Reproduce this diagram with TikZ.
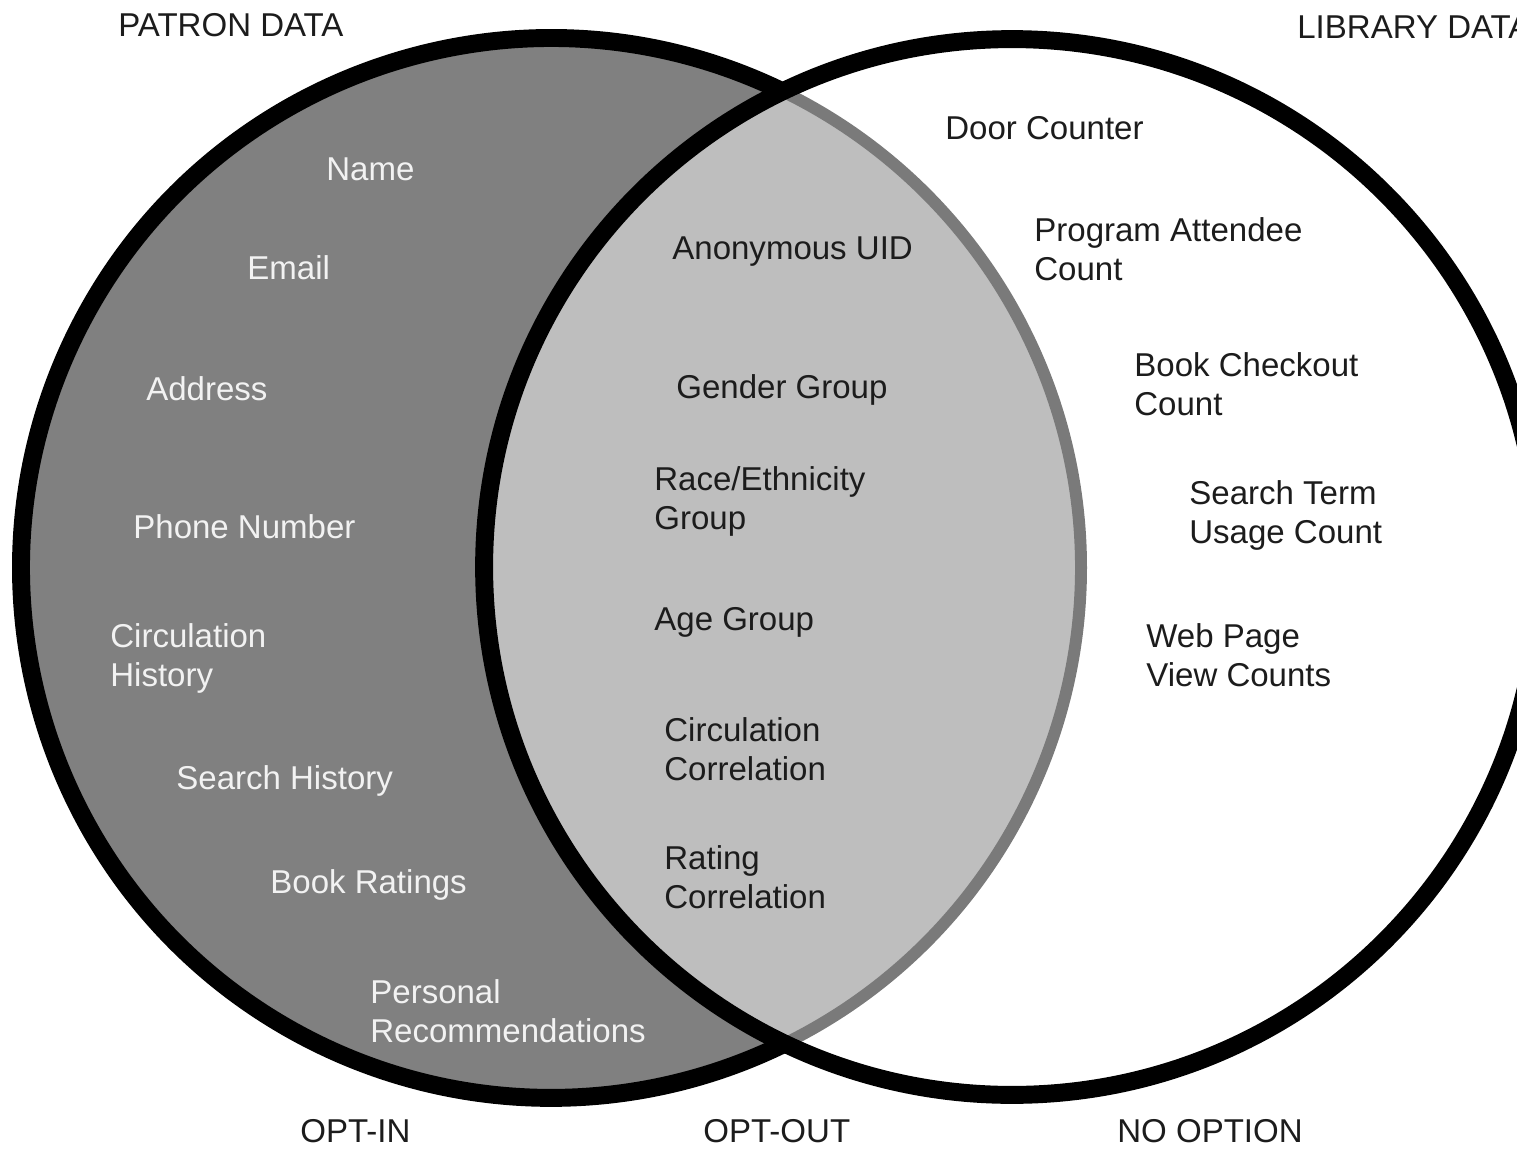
\documentclass[tikz,border=0pt]{standalone}
\usepackage{fontspec}
\setmainfont{Liberation Sans}
\definecolor{patrongray}{HTML}{808080}
\definecolor{sharedgray}{HTML}{BEBEBE}
\definecolor{rimgray}{HTML}{7A7A7A}
\definecolor{inkblack}{HTML}{1C1C1C}
\tikzset{
  lbl/.style={anchor=west, inner sep=0pt, align=left, text=inkblack,
    text depth=0pt, font=\fontsize{18.8}{22.3}\selectfont},
  wlbl/.style={lbl, text=white!95!black},
  rim/.style={line width=10.2pt},
}
\begin{document}
\begin{tikzpicture}[x=0.02cm, y=-0.02cm]
  \useasboundingbox (0,0) rectangle (1517,1149);
  \coordinate (pc) at (551,568);
  \coordinate (lc) at (1012,567);

  \fill[patrongray] (pc) circle (10.6cm);
  \begin{scope}
    \clip (lc) circle (10.56cm);
    \fill[sharedgray] (pc) circle (10.6cm);
  \end{scope}
  \draw[rimgray, line width=6.8pt] (pc) ++(-64:10.6cm) arc[start angle=-64, end angle=64, radius=10.6cm];
  \draw[rim] (pc) ++(64:10.6cm) arc[start angle=64, end angle=296, radius=10.6cm];
  \draw[rim] (lc) circle (10.56cm);

  \node[lbl] (patron) at (118,25) {PATRON DATA};
  \node[lbl] (library) at (1297,27) {LIBRARY DATA};

  \node[wlbl] (name) at (326,169) {Name};
  \node[wlbl] (email) at (247,268) {Email};
  \node[wlbl] (address) at (146,389) {Address};
  \node[wlbl] (phone) at (133,527) {Phone Number};
  \node[wlbl] (circ) at (110,655) {Circulation\\History};
  \node[wlbl] (search) at (176,778) {Search History};
  \node[wlbl] (ratings) at (270,882) {Book Ratings};
  \node[wlbl] (recs) at (370,1011) {Personal\\Recommendations};

  \node[lbl] (uid) at (672,248) {Anonymous UID};
  \node[lbl] (gender) at (676,387) {Gender Group};
  \node[lbl] (race) at (654,498) {Race/Ethnicity\\Group};
  \node[lbl] (age) at (654,619) {Age Group};
  \node[lbl] (circcorr) at (664,749) {Circulation\\Correlation};
  \node[lbl] (ratecorr) at (664,877) {Rating\\Correlation};

  \node[lbl] (door) at (945,128) {Door Counter};
  \node[lbl] (attendee) at (1034,249) {Program Attendee\\Count};
  \node[lbl] (checkout) at (1134,384) {Book Checkout\\Count};
  \node[lbl] (term) at (1189,512) {Search Term\\Usage Count};
  \node[lbl] (webpage) at (1146,655) {Web Page\\View Counts};

  \node[lbl] (optin) at (300,1131) {OPT-IN};
  \node[lbl] (optout) at (703,1131) {OPT-OUT};
  \node[lbl] (nooption) at (1117,1131) {NO OPTION};
\end{tikzpicture}
\end{document}
